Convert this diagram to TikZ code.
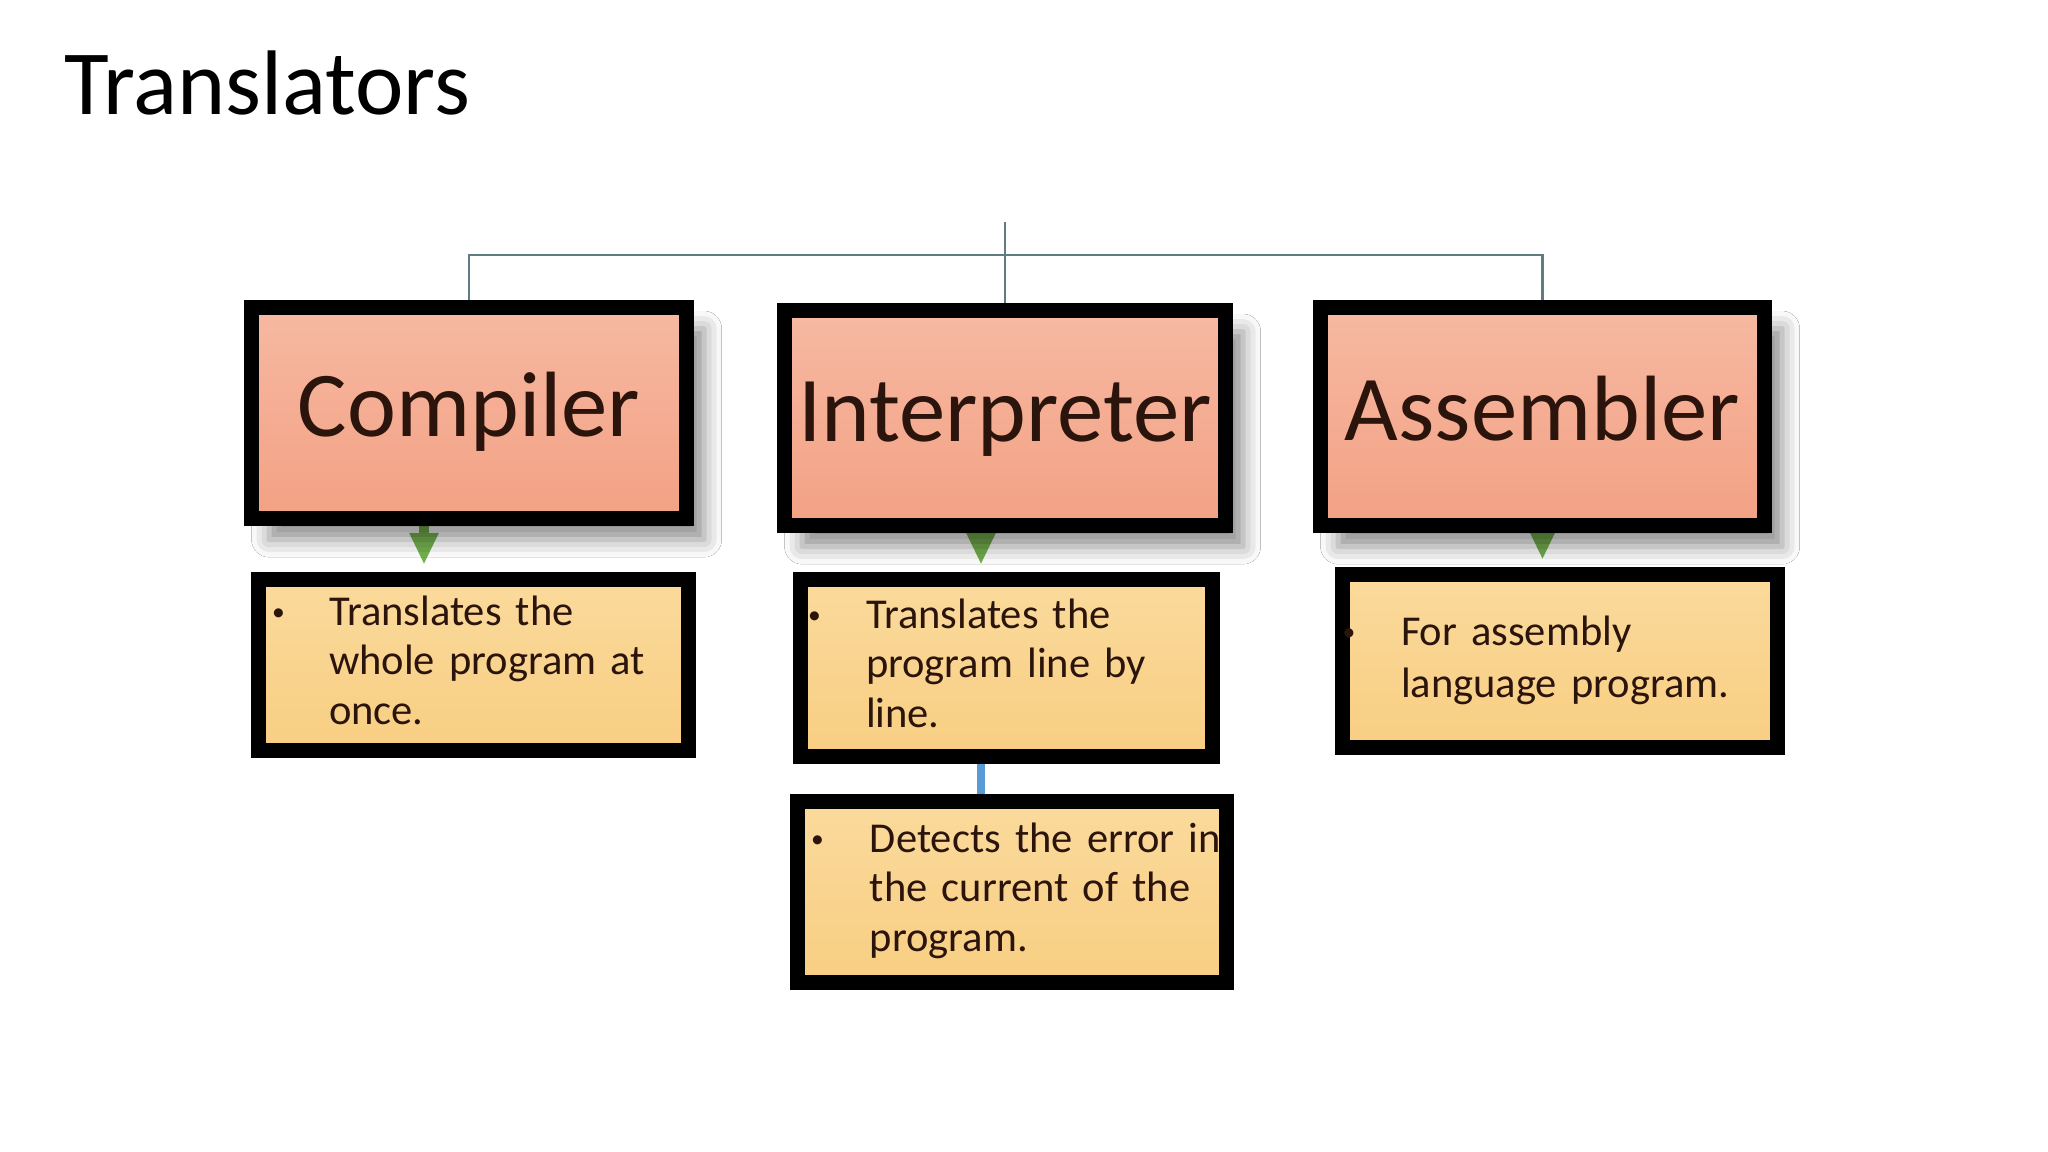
\documentclass[tikz,border=0pt]{standalone}
\usepackage{fontspec}
\setmainfont{Carlito}
\usetikzlibrary{arrows.meta,shadows.blur,backgrounds}

\definecolor{headtop}{HTML}{F6B9A2}
\definecolor{headbot}{HTML}{F3A184}
\definecolor{notetop}{HTML}{FADA9C}
\definecolor{notebot}{HTML}{F8CE82}
\definecolor{inkdark}{HTML}{2B140C}
\definecolor{branchgray}{HTML}{5F7C82}
\definecolor{flowgreen}{HTML}{74B04E}
\definecolor{linkblue}{HTML}{5B9BD5}

\newcommand{\notefont}[1][14pt]{\fontsize{12.1pt}{#1}\selectfont\spaceskip=0.17em plus 0.1em minus 0.05em\relax}
\newcommand{\notelines}[2][0.57cm]{\begin{tabular}{@{}p{#1}@{}l@{}}\raisebox{0.25ex}{\scalebox{0.6}{\textbullet}} & #2\end{tabular}}

\begin{document}
\begin{tikzpicture}[
    head/.style={rectangle, draw=black, line width=0.15cm, top color=headtop, bottom color=headbot, text=inkdark, inner xsep=0pt, text height=20pt, text depth=6.6pt, font=\fontsize{26.4}{30}\selectfont, blur shadow={shadow xshift=5pt, shadow yshift=-6pt, shadow blur radius=5pt, shadow opacity=45}},
    note/.style={rectangle, draw=black, line width=0.15cm, top color=notetop, bottom color=notebot, text=inkdark, align=left, inner ysep=0pt, font=\notefont},
    branch/.style={draw=branchgray, line width=0.8pt},
    flow/.style={draw=flowgreen, line width=2.8pt, shorten >=2.1pt, -{Triangle[width=7.7pt, length=9pt]}},
    link/.style={draw=linkblue, line width=2.3pt}
]
    \useasboundingbox (0,0) rectangle (20.48,-11.52);

    % Title
    \node[anchor=base west, font=\fontsize{26.1}{30}\selectfont] (title) at (0.52,-1.15) {Translators};

    % Translators
    \node[head, minimum width=4.35cm, minimum height=2.11cm] (compiler) at (4.69,-4.13) {Compiler};
    \node[head, minimum width=4.41cm, minimum height=2.15cm] (interpreter) at (10.05,-4.18) {Interpreter};
    \node[head, minimum width=4.44cm, minimum height=2.18cm] (assembler) at (15.425,-4.165) {Assembler};

    % Notes
    \node[note, minimum height=1.71cm, inner xsep=0.135cm, text width=4.03cm] (compnote) at (4.735,-6.65)
        {\notelines{Translates the\\ & whole program at\\ & once.}};
    \node[note, minimum height=1.77cm, inner xsep=0.075cm, text width=3.97cm] (interpnote) at (10.065,-6.68)
        {\notelines[0.58cm]{Translates the\\ & program line by\\ & line.}};
    \node[note, minimum height=1.81cm, inner xsep=0.135cm, text width=4.02cm, font={\notefont\spaceskip=0.13em\relax}] (detectnote) at (10.12,-8.92)
        {\notelines[0.59cm]{Detects the error in\\ & the current of the\\ & program.}};
    \node[note, minimum height=1.73cm, inner xsep=0cm, text width=4.35cm, font={\notefont[15pt]}] (asmnote) at (15.60,-6.61)
        {\notelines[0.585cm]{For assembly\\ & language program.}};

    % Connectors
    \coordinate (hub) at (10.05,-2.22);
    \coordinate (bar) at (10.05,-2.55);
    \coordinate (compout) at ([xshift=-0.45cm]compiler.south);
    \coordinate (interpout) at ([xshift=-0.24cm]interpreter.south);
    \coordinate (linkout) at ([xshift=-0.255cm]interpnote.south);
    \begin{scope}[on background layer]
        \fill[white] (0,0) rectangle (20.48,-11.52);
        \draw[branch] (compiler.north) |- (bar) -| (assembler.north);
        \draw[branch] (hub) -- (interpreter.north);
        \draw[flow] (compout) -- (compout |- compnote.north);
        \draw[flow] (interpout) -- (interpout |- interpnote.north);
        \draw[flow] (assembler.south) -- (assembler.south |- asmnote.north);
        \draw[link] (linkout) -- (linkout |- detectnote.north);
    \end{scope}

\end{tikzpicture}
\end{document}
